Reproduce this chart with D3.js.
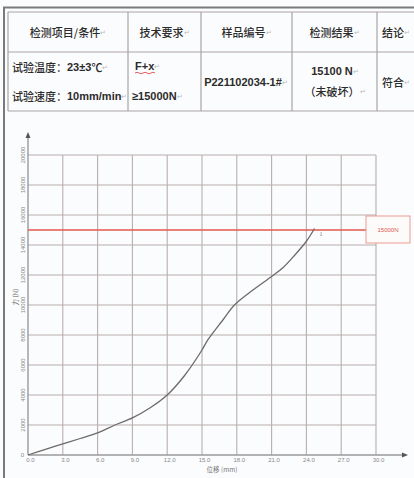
<!DOCTYPE html>
<html>
<head>
<meta charset="utf-8">
<script src="https://cdn.jsdelivr.net/npm/d3@7"></script>
<style>
  body { margin: 0; background: #fbfcfd; }
  svg { display: block; }
</style>
</head>
<body>
<div id="chart"></div>
<script>
// table contents
const headers = ["检测项目/条件", "技术要求", "样品编号", "检测结果", "结论"];
const colEdges = [8, 128, 201, 292, 377, 440];

// axis ticks
const xTicks = [0, 3, 6, 9, 12, 15, 18, 21, 24, 27, 30];
const yTicks = [0, 2000, 4000, 6000, 8000, 10000, 12000, 14000, 16000, 18000, 20000];

// force-displacement curve
const dispMm = [0, 1.5, 3, 4.5, 6, 7.5, 9, 10.5, 12, 13.5, 15, 15.5, 16.8, 17.8, 19.4, 21, 22, 23, 24, 24.7];
const forceN = [0, 380, 740, 1100, 1470, 2000, 2470, 3130, 4000, 5300, 7000, 7670, 9000, 10000, 11000, 11900, 12500, 13330, 14250, 15100];
const limitN = 15000;

const svg = d3.select("#chart").append("svg")
    .attr("width", 414)
    .attr("height", 478);

// outer frame
svg.append("line").attr("x1", 4).attr("x2", 4).attr("y1", 7).attr("y2", 478)
    .attr("stroke", "#7a7a7a").attr("stroke-width", 2);
svg.append("line").attr("x1", 3).attr("x2", 414).attr("y1", 7.5).attr("y2", 7.5)
    .attr("stroke", "#7a7a7a").attr("stroke-width", 2);

// table
const tTop = 12, tMid = 52, tBot = 111;
const tbl = svg.append("g").attr("stroke", "#a9a3a3").attr("stroke-width", 1.2);
[tTop, tMid, tBot].forEach(y => {
    tbl.append("line").attr("x1", colEdges[0]).attr("x2", 414).attr("y1", y).attr("y2", y);
});
colEdges.slice(0, 5).forEach(x => {
    tbl.append("line").attr("x1", x).attr("x2", x).attr("y1", tTop).attr("y2", tBot);
});

const cjk = "'Noto Sans CJK SC', sans-serif";
const latin = "'Liberation Sans', Arial, sans-serif";

function cellText(x, y, parts, anchor) {
    const t = svg.append("text")
        .attr("x", x).attr("y", y)
        .attr("text-anchor", anchor || "middle")
        .attr("dominant-baseline", "central")
        .style("font-size", "11px")
        .attr("fill", "#2b2b2b");
    parts.forEach(p => {
        t.append("tspan").text(p[0])
            .style("font-family", p[1] === "l" ? latin : cjk)
            .style("font-weight", p[1] === "l" ? "bold" : "500")
            .style("font-size", p[2] || "11px");
    });
    t.append("tspan").text("↵").attr("fill", "#b8b8b8").style("font-size", "7px").style("font-family", latin);
    return t;
}

headers.forEach((h, i) => {
    const cx = i < 4 ? (colEdges[i] + colEdges[i + 1]) / 2 : 396;
    cellText(cx, 32, [[h, "c"]]);
});

cellText(12, 67, [["试验温度：", "c"], ["23±3", "l"], ["℃", "c"]], "start");
cellText(12, 96, [["试验速度：", "c"], ["10mm/min", "l"]], "start");
cellText(135, 66, [["F+x", "l"]], "start");
svg.append("path").attr("d", "M135,73 q2,-1.5 4,0 t4,0 t4,0 t4,0 t4,0")
    .attr("fill", "none").attr("stroke", "#d33").attr("stroke-width", 0.8);
cellText(132, 96, [["≥15000N", "l"]], "start");
cellText(246, 82, [["P221102034-1#", "l"]]);
cellText(335, 71, [["15100 N", "l"]]);
cellText(335, 91, [["（未破坏）", "c"]]);
cellText(396, 82, [["符合", "c"]]);

// chart
const x = d3.scaleLinear().domain([0, 30]).range([28, 376]);
const y = d3.scaleLinear().domain([0, 20000]).range([455, 155]);

const grid = svg.append("g").attr("stroke", "#b9aeae").attr("stroke-width", 1.1);
xTicks.slice(1).forEach(v => {
    grid.append("line").attr("x1", x(v)).attr("x2", x(v)).attr("y1", y(0)).attr("y2", y(20000));
});
yTicks.slice(1).forEach(v => {
    grid.append("line").attr("x1", x(0)).attr("x2", x(30)).attr("y1", y(v)).attr("y2", y(v));
});

// axes with arrows
svg.append("line").attr("x1", x(0)).attr("x2", 404).attr("y1", y(0)).attr("y2", y(0))
    .attr("stroke", "#9a9a9a").attr("stroke-width", 1.4);
svg.append("path").attr("d", `M408,${y(0)} l-6,-2.5 v5 z`).attr("fill", "#555");
svg.append("line").attr("x1", x(0)).attr("x2", x(0)).attr("y1", y(0)).attr("y2", 137)
    .attr("stroke", "#9a9a9a").attr("stroke-width", 1.4);
svg.append("path").attr("d", `M${x(0)},132 l-2.5,6 h5 z`).attr("fill", "#555");

const xAxis = svg.append("g")
    .attr("transform", `translate(0,${y(0) + 1})`)
    .call(d3.axisBottom(x).tickValues(xTicks).tickFormat(d3.format(".1f")).tickSize(0).tickPadding(2));
xAxis.select(".domain").remove();
xAxis.selectAll("text").attr("fill", "#888").style("font-size", "6px").style("font-family", latin)
    .attr("dx", "2");

const yAxis = svg.append("g")
    .attr("transform", `translate(${x(0)},0)`)
    .call(d3.axisLeft(y).tickValues(yTicks).tickFormat(d3.format("d")).tickSize(0).tickPadding(3));
yAxis.select(".domain").remove();
yAxis.selectAll("text")
    .attr("fill", "#888").style("font-size", "6px").style("font-family", latin)
    .attr("text-anchor", "middle")
    .attr("transform", function(d) { return `rotate(-90,${-5},${y(d)})`; })
    .attr("x", -5).attr("y", d => y(d)).attr("dy", "0.35em");
yAxis.selectAll(".tick").attr("transform", null);
yAxis.selectAll(".tick").filter(d => d === 0).select("text")
    .attr("transform", null).attr("x", -4).attr("text-anchor", "end");

svg.append("text")
    .attr("transform", `translate(18,297) rotate(-90)`)
    .attr("text-anchor", "middle")
    .style("font-size", "6.5px").style("font-family", cjk)
    .attr("fill", "#777")
    .text("力 (N)");

svg.append("text")
    .attr("x", 222).attr("y", 472)
    .attr("text-anchor", "middle")
    .style("font-size", "6.5px").style("font-family", cjk)
    .attr("fill", "#777")
    .text("位移 (mm)");

// 15000 N limit
svg.append("line")
    .attr("x1", x(0)).attr("x2", 366)
    .attr("y1", y(limitN)).attr("y2", y(limitN))
    .attr("stroke", "#e4584c").attr("stroke-width", 1.6);
svg.append("rect")
    .attr("x", 366).attr("y", 216).attr("width", 44).attr("height", 27)
    .attr("fill", "#fdfafa").attr("stroke", "#ec9a92").attr("stroke-width", 1);
svg.append("text")
    .attr("x", 388).attr("y", 229.5)
    .attr("text-anchor", "middle").attr("dominant-baseline", "central")
    .style("font-size", "6px").style("font-family", latin)
    .attr("fill", "#e0594d")
    .text(limitN + "N");

// curve
const pts = dispMm.map((d, i) => [d, forceN[i]]);
svg.append("path")
    .datum(pts)
    .attr("fill", "none")
    .attr("stroke", "#6f6a6a")
    .attr("stroke-width", 1.3)
    .attr("d", d3.line().x(d => x(d[0])).y(d => y(d[1])).curve(d3.curveCatmullRom.alpha(0.5)));

svg.append("text")
    .attr("x", x(dispMm[dispMm.length - 1]) + 5).attr("y", y(forceN[forceN.length - 1]) + 7)
    .style("font-size", "6px").style("font-family", "'Liberation Serif', serif")
    .attr("fill", "#777")
    .text("1");
</script>
</body>
</html>
